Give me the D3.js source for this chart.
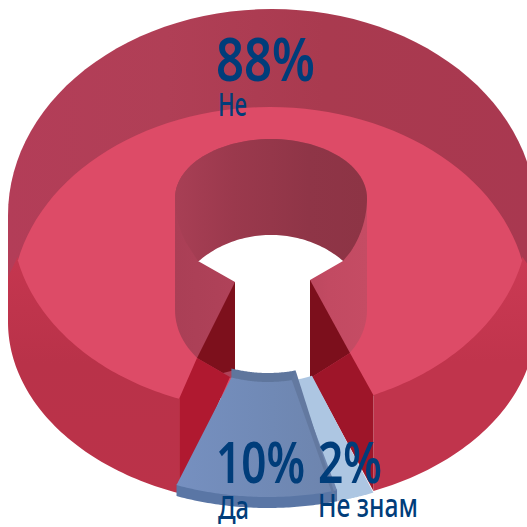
<!DOCTYPE html>
<html><head><meta charset="utf-8">
<script src="https://cdn.jsdelivr.net/npm/d3@7"></script>
<style>html,body{margin:0;padding:0;background:#fff}svg{display:block}</style>
</head><body><svg id="c" width="527" height="527"></svg>
<script>
const categories = ["Да", "Не", "Не знам"];
const values = [10, 88, 2];
const percentLabels = ["10%", "88%", "2%"];
const startDeg = 164.6;

const svg = d3.select("#c");
const defs = svg.append("defs");
const rad = d => d * Math.PI / 180;
const pie = d3.pie().sort(null).startAngle(rad(startDeg)).endAngle(rad(startDeg + 360));
const arcs = pie(values);
const [da, ne, dk] = arcs;
const line = d3.line();

// projected ellipses
const E = {
  back:   {cx: 272, cy: 215, rx: 264, ry: 206},
  base:   {cx: 272, cy: 322, rx: 264, ry: 183},
  faceUp: {cx: 270, cy: 302, rx: 258, ry: 195},
  faceLo: {cx: 270, cy: 220, rx: 258, ry: 191},
  blue:   {cx: 268, cy: 310, rx: 260, ry: 187},
  blueI:  {cx: 268, cy: 310, rx: 104, ry: 72},
  lite:   {cx: 272, cy: 320, rx: 264, ry: 187},
  liteI:  {cx: 272, cy: 300, rx: 104, ry: 82}
};
const pt = (e, a) => [e.cx + e.rx * Math.sin(a), e.cy - e.ry * Math.cos(a)];
const sweep = (e, a0, a1) => d3.range(0, 61).map(i => pt(e, a0 + (a1 - a0) * i / 60));
const shift = (ps, dy) => ps.map(p => [p[0], p[1] + dy]);
const poly = (ps, fill) => svg.append("path").attr("d", line(ps) + "Z").attr("fill", fill);
const grad = (id, x1, x2, stops, y1 = 0, y2 = 0) => {
  const g = defs.append("linearGradient").attr("id", id)
    .attr("x1", x1).attr("x2", x2).attr("y1", y1).attr("y2", y2);
  stops.forEach(([o, c]) => g.append("stop").attr("offset", o).attr("stop-color", c));
  return `url(#${id})`;
};

// back of the ring
poly([...sweep(E.back, rad(-90), rad(90)), [536, 300], [8, 300]],
  grad("gb", 0, 1, [[0, "#b33d58"], [0.3, "#b03f56"], [0.6, "#a93a4f"], [1, "#a93850"]]));

// outer walls
const neL = ne.startAngle, neR = ne.endAngle - rad(360);
const baseL = pt(E.base, neL), baseR = pt(E.base, neR);
const cornerL = [baseL[0], pt(E.faceLo, neL)[1]], cornerR = [baseR[0], pt(E.faceLo, neR)[1] - 1];
poly([[8, 277], ...shift(sweep(E.faceLo, rad(258), neL), -3), [cornerL[0], cornerL[1] - 3], ...sweep(E.base, neL, rad(270))],
  grad("gl", 0, 0, [[0, "#c5364f"], [0.45, "#b93249"], [1, "#bb3249"]], 0, 1));
poly([[536, 277], ...shift(sweep(E.faceLo, rad(102), neR), -3), [cornerR[0], cornerR[1] - 3], ...sweep(E.base, neR, rad(90))],
  grad("gr", 0, 0, [[0, "#cb3a54"], [0.45, "#c0344c"], [1, "#c0344c"]], 0, 1));

// bright top face: eye shape between two arcs
const upper = sweep(E.faceUp, rad(-78), rad(78));
const lowerR = sweep(E.faceLo, rad(102), neR);
const lowerL = sweep(E.faceLo, neL, rad(258));
poly([...upper, ...lowerR, cornerR, cornerL, ...lowerL], "#dd4b67");

// hole wall: translucent capsule
const hole = {cx: 271, cy: 198, rx: 96, ry: 59};
const holeLow = {cx: 271, cy: 310, rx: 96, ry: 75};
const capsule = [...sweep(hole, rad(-90), rad(90)), ...sweep(holeLow, rad(90), rad(270))];
poly(capsule, grad("gc", 0, 1, [[0, "#aa3f56"], [0.55, "#b4445b"], [0.8, "#c24a62"], [1, "#c54c64"]]));

// darker far wall
const lensL = [198, 261], lensR = [343, 261];
const holeD = {cx: 271, cy: 198, rx: 96, ry: 96};
poly([lensL, ...sweep(holeD, rad(-118), rad(-90)), ...sweep(hole, rad(-90), rad(90)), ...sweep(holeD, rad(90), rad(125)), lensR],
  grad("gd", 0, 1, [[0, "#a83f55"], [0.3, "#9b394d"], [0.7, "#8f3547"], [1, "#8d3445"]]));

// cut faces of the ring
const holeL = [197, 358], holeR = [350, 353], slotL = [235, 282], slotR = [310, 280];
poly([slotL, holeL, [223, 373], [235, 370]], "#7d101c");
poly([holeL, cornerL, baseL, [230, 377], [223, 373]], "#b01930");
poly([slotR, holeR, [312, 377], [310, 377]], "#7c0f1c");
poly([holeR, cornerR, baseR, [312, 377]], "#9e1529");

// opening in the middle
const lens = {cx: 271, cy: 324, rx: 102, ry: 89};
poly([lensL, ...sweep(lens, rad(-45), rad(45)), lensR, slotR, [310, 392], [235, 392], slotL], "#fff");

// "Не знам" slice: dk0 is its right edge, dk1 runs under the "Да" slice
const dk0 = dk.startAngle - rad(360), dk1 = dk.endAngle - rad(360) + rad(4);
poly([...sweep(E.lite, dk0, dk1), ...sweep(E.liteI, dk1, dk0)], "#adc6e2");

// "Да" slice: a0 is its right edge, a1 its left edge
const a0 = da.startAngle, a1 = da.endAngle;
poly([...shift(sweep(E.blue, a0, a1), 11), ...shift(sweep(E.blue, a1, a0), -1)], "#5a76a5");
poly([...shift(sweep(E.blueI, a0, a1), -9), ...shift(sweep(E.blueI, a1, a0), 1)], "#5f769d");
const rO = pt(E.blue, a0), rI = pt(E.blueI, a0);
poly([...sweep(E.blue, a0, a1), ...sweep(E.blueI, a1, a0)],
  grad("gf", 0, 1, [[0, "#7690c0"], [0.6, "#7089b5"], [1, "#6d84ad"]]));
poly([[rI[0] - 4, rI[1]], [rO[0] - 6, rO[1]], [rO[0], rO[1] + 11], [rI[0], rI[1] - 9]], "#6379a0");

// labels
const text = (s, x, y, size, w, weight) => svg.append("text")
  .attr("x", x).attr("y", y).attr("font-family", "'Noto Sans'")
  .attr("font-size", size).attr("font-weight", weight).attr("fill", "#003d7a")
  .attr("textLength", w).attr("lengthAdjust", "spacingAndGlyphs").text(s);
const pctX = [[216, 483, 89], [216, 81, 99], [318, 483, 64]];
const catX = [[218, 519, 31], [218, 116, 29], [318, 517, 100]];
arcs.forEach((d, i) => {
  text(percentLabels[i], pctX[i][0], pctX[i][1], i === 1 ? 60 : 58, pctX[i][2], 600);
  text(categories[i], catX[i][0], catX[i][1], 32, catX[i][2], 500);
});
</script></body></html>
